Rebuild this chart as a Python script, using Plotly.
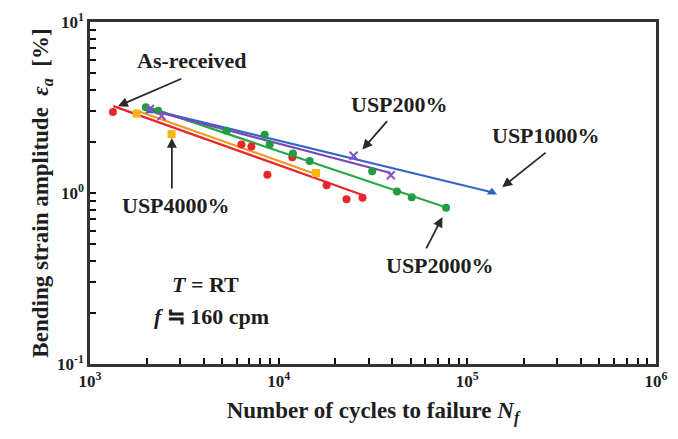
import plotly.graph_objects as go

# ---- data (N cycles, strain amplitude %) ----
asrec_N = [1323, 6347, 7170, 8715, 11816, 17950, 22890, 27820]
asrec_e = [2.98, 1.92, 1.87, 1.28, 1.62, 1.11, 0.919, 0.937]
asrec_fitN = [1330, 27820]
asrec_fite = [3.22, 0.974]

u4000_N = [1766, 2706, 15790]
u4000_e = [2.91, 2.21, 1.31]
u4000_fitN = [1730, 16080]
u4000_fite = [3.06, 1.28]

u2000_N = [1978, 2298, 5288, 8433, 8964, 11904, 14590, 31320, 42360, 50740, 77150]
u2000_e = [3.17, 3.03, 2.31, 2.19, 1.92, 1.70, 1.54, 1.34, 1.02, 0.943, 0.820]
u2000_fitN = [1955, 77430]
u2000_fite = [3.22, 0.823]

u200_N = [2078, 2395, 24940, 39290]
u200_e = [3.10, 2.82, 1.65, 1.27]
u200_fitN = [2078, 39290]
u200_fite = [3.06, 1.31]

u1000_N = [2100, 134950]
u1000_e = [3.02, 1.01]
u1000_fitN = [2027, 134950]
u1000_fite = [3.10, 1.01]

x_decades = [3, 4, 5, 6]
x_decade_text = ["10<sup>3</sup>", "10<sup>4</sup>", "10<sup>5</sup>", "10<sup>6</sup>"]
y_decades = [-1, 0, 1]
y_decade_text = ["10<sup>-1</sup>", "10<sup>0</sup>", "10<sup>1</sup>"]
digits = [1, 2, 3, 4, 5, 6, 7, 8, 9]


def log_ticks(decades, texts):
    vals, txt = [], []
    for i, d in enumerate(decades):
        for k in digits:
            if i == len(decades) - 1 and k > 1:
                break
            vals.append(k * 10 ** d)
            txt.append("<b>%s</b>" % texts[i] if k == 1 else " ")
    return vals, txt


x_tickvals, x_ticktext = log_ticks(x_decades, x_decade_text)
y_tickvals, y_ticktext = log_ticks(y_decades, y_decade_text)

FONT = "Liberation Serif"
TXT = "#1e1e1e"

series = [
    ("As-received", asrec_N, asrec_e, asrec_fitN, asrec_fite, "#e8262b", "#e8262b", "circle", 8),
    ("USP4000%", u4000_N, u4000_e, u4000_fitN, u4000_fite, "#f39a1e", "#f7b614", "square", 8),
    ("USP2000%", u2000_N, u2000_e, u2000_fitN, u2000_fite, "#29a847", "#1f9d3f", "circle", 8),
    ("USP1000%", u1000_N, u1000_e, u1000_fitN, u1000_fite, "#3566c4", "#2a68c2", "triangle-up", 9),
    ("USP200%", u200_N, u200_e, u200_fitN, u200_fite, "#7b46b8", "#8a4fc0", "x-thin", 8),
]

fig = go.Figure()
for name, N, e, fN, fe, lc, mc, sym, ms in series:
    fig.add_trace(go.Scatter(x=fN, y=fe, mode="lines",
                             line=dict(color=lc, width=2.2), showlegend=False))
for name, N, e, fN, fe, lc, mc, sym, ms in series:
    mk = dict(color=mc, symbol=sym, size=ms)
    if sym == "x-thin":
        mk["line"] = dict(color=mc, width=2)
    fig.add_trace(go.Scatter(x=N, y=e, mode="markers", marker=mk,
                             name=name, showlegend=False))

# annotations: (text, x_log, y_log)
labels = [
    ("As-received", 3.54, 0.774),
    ("USP200%", 4.640, 0.520),
    ("USP1000%", 5.418, 0.339),
    ("USP4000%", 3.455, -0.073),
    ("USP2000%", 4.857, -0.424),
]
for t, lx, ly in labels:
    fig.add_annotation(x=lx, y=ly, xref="x", yref="y", text="<b>%s</b>" % t,
                       showarrow=False, font=dict(family=FONT, size=22, color=TXT))

# arrows: (tail_x, tail_y, head_x, head_y) in log units
arrows = [
    (3.492, 0.672, 3.148, 0.508),
    (4.582, 0.429, 4.444, 0.254),
    (5.423, 0.243, 5.185, 0.034),
    (3.434, 0.017, 3.434, 0.322),
    (4.778, -0.333, 4.868, -0.141),
]
for tx, ty, hx, hy in arrows:
    fig.add_annotation(x=hx, y=hy, ax=tx, ay=ty, xref="x", yref="y",
                       axref="x", ayref="y", text="", showarrow=True,
                       arrowhead=2, arrowsize=1.1, arrowwidth=1.8,
                       arrowcolor="#2a2a2a")

fig.add_annotation(x=3.614, y=-0.537, xref="x", yref="y",
                   text="<b><i>T</i> = RT</b>", showarrow=False,
                   font=dict(family=FONT, size=22, color=TXT))
fig.add_annotation(x=3.646, y=-0.723, xref="x", yref="y",
                   text="<b><i>f</i> ≒ 160 cpm</b>", showarrow=False,
                   font=dict(family=FONT, size=22, color=TXT))

axis_common = dict(showgrid=False, zeroline=False, showline=True, mirror=True,
                   linecolor="#333", linewidth=2.5, ticks="inside", ticklen=6,
                   tickwidth=2, tickcolor="#111", tickangle=0,
                   tickfont=dict(family=FONT, size=17, color=TXT))

fig.update_xaxes(type="log", range=[3, 6], tickmode="array",
                 tickvals=x_tickvals, ticktext=x_ticktext,
                 title=dict(text="<b>Number of cycles to failure <i>N<sub>f</sub></i></b>",
                            font=dict(family=FONT, size=23, color=TXT), standoff=12),
                 **axis_common)
fig.update_yaxes(type="log", range=[-1, 1], tickmode="array",
                 tickvals=y_tickvals, ticktext=y_ticktext,
                 title=dict(text="<b>Bending strain amplitude  <i>ε<sub>a</sub></i>  [%]</b>",
                            font=dict(family=FONT, size=23, color=TXT), standoff=2),
                 **axis_common)

fig.update_layout(width=678, height=439, margin=dict(l=90, r=21, t=10, b=75),
                  plot_bgcolor="white", paper_bgcolor="white", showlegend=False)

fig.write_html("out.html")
